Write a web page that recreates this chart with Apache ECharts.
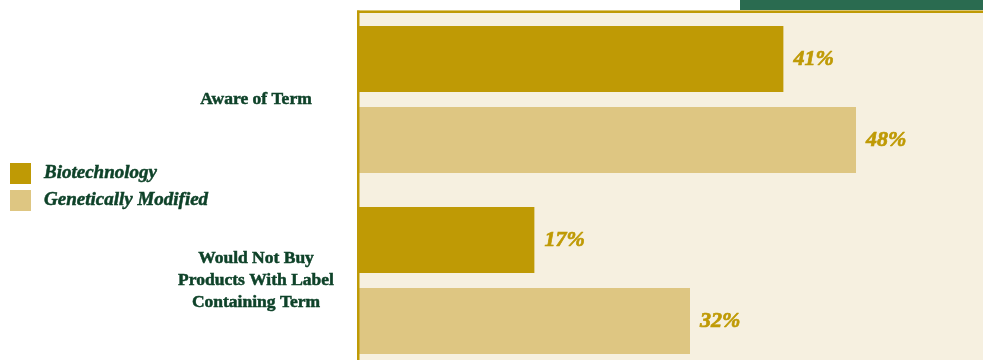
<!DOCTYPE html>
<html>
<head>
<meta charset="utf-8">
<script src="https://cdn.jsdelivr.net/npm/echarts@6/dist/echarts.min.js"></script>
<style>
html,body{margin:0;padding:0;background:#ffffff;}
#chart{width:983px;height:360px;}
</style>
</head>
<body>
<div id="chart"></div>
<script>
const categories = ['Aware of Term', 'Would Not Buy\nProducts With Label\nContaining Term'];
const seriesNames = ['Biotechnology', 'Genetically Modified'];
const biotechValues = [41, 17];
const gmValues = [48, 32];

const GOLD = '#bf9a05';
const LIGHT = '#dec682';
const GREEN = '#0e4229';
const BG = '#f6f0e0';

const chart = echarts.init(document.getElementById('chart'), null, {renderer: 'canvas'});

const labelStyle = {
  show: true,
  position: 'right',
  distance: 10,
  formatter: '{c}%',
  color: GOLD,
  fontFamily: 'Liberation Serif',
  fontWeight: 'bold',
  fontStyle: 'italic',
  fontSize: 22,
  textBorderColor: GOLD,
  textBorderWidth: 0.7
};

chart.setOption({
  animation: false,
  backgroundColor: '#ffffff',
  graphic: [
    {type: 'rect', z: -10, shape: {x: 358, y: 10, width: 625, height: 350}, style: {fill: BG}},
    {type: 'rect', z: 100, shape: {x: 740, y: 0, width: 243, height: 10}, style: {fill: '#2a6b50'}},
    {type: 'rect', z: 100, shape: {x: 357, y: 10.5, width: 626, height: 2.5}, style: {fill: GOLD}},
    {type: 'rect', z: 100, shape: {x: 357, y: 10.5, width: 2.5, height: 350}, style: {fill: GOLD}}
  ],
  grid: {left: 358, width: 625, top: 9, height: 362, containLabel: false, outerBoundsMode: 'none'},
  legend: {
    orient: 'vertical',
    left: 10,
    top: 163,
    padding: 0,
    itemWidth: 21,
    itemHeight: 21,
    itemGap: 6,
    icon: 'rect',
    data: seriesNames,
    textStyle: {
      color: GREEN,
      fontFamily: 'Liberation Serif',
      fontWeight: 'bold',
      fontStyle: 'italic',
      fontSize: 19,
      padding: [0, 0, 0, 8],
      textBorderColor: GREEN,
      textBorderWidth: 0.5
    }
  },
  xAxis: {
    type: 'value',
    min: 0,
    max: 60.24,
    show: false
  },
  yAxis: {
    type: 'category',
    inverse: true,
    data: categories,
    axisLine: {show: false},
    axisTick: {show: false},
    splitLine: {show: false},
    axisLabel: {
      align: 'center',
      margin: 102,
      color: GREEN,
      fontFamily: 'Liberation Serif',
      fontWeight: 'bold',
      fontSize: 17.5,
      lineHeight: 22,
      textBorderColor: GREEN,
      textBorderWidth: 0.5
    }
  },
  series: [
    {
      name: seriesNames[0],
      type: 'bar',
      data: biotechValues,
      barWidth: 66,
      barGap: '23%',
      itemStyle: {color: GOLD},
      label: labelStyle
    },
    {
      name: seriesNames[1],
      type: 'bar',
      data: gmValues,
      barWidth: 66,
      barGap: '23%',
      itemStyle: {color: LIGHT},
      label: labelStyle
    }
  ]
});
</script>
</body>
</html>
